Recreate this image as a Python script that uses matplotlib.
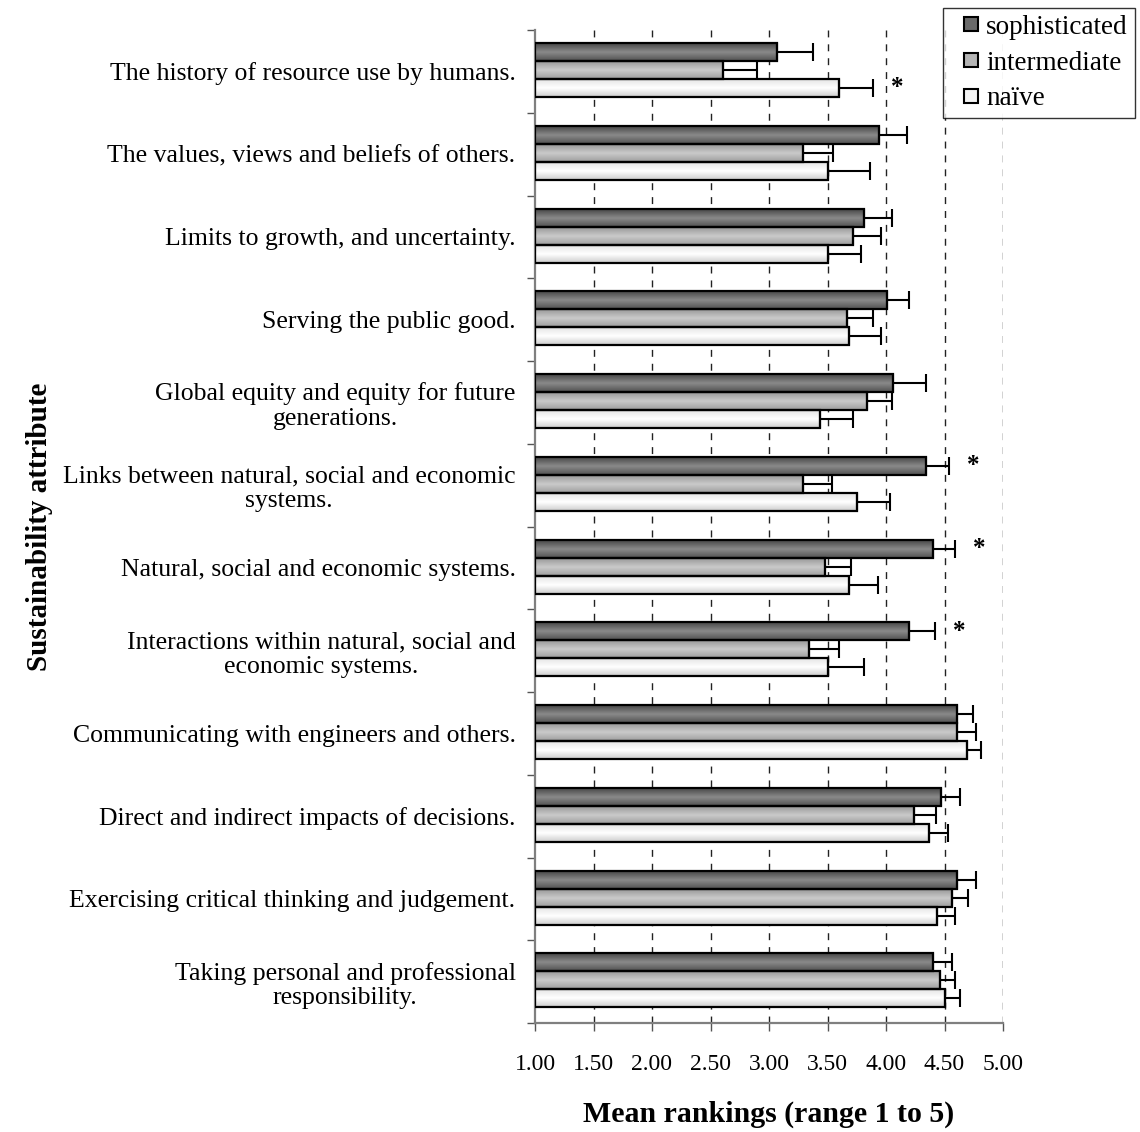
import numpy as np
import matplotlib
matplotlib.use("Agg")
from matplotlib import pyplot as plt
from matplotlib.colors import LinearSegmentedColormap
from matplotlib.patches import Patch, Rectangle
from matplotlib.legend_handler import HandlerPatch

plt.rcParams['font.family'] = ['Liberation Serif', 'DejaVu Serif']

attributes = [
    "The history of resource use by humans.",
    "The values, views and beliefs of others.",
    "Limits to growth, and uncertainty.",
    "Serving the public good.",
    "Global equity and equity for future\ngenerations.",
    "Links between natural, social and economic\nsystems.",
    "Natural, social and economic systems.",
    "Interactions within natural, social and\neconomic systems.",
    "Communicating with engineers and others.",
    "Direct and indirect impacts of decisions.",
    "Exercising critical thinking and judgement.",
    "Taking personal and professional\nresponsibility.",
]
groups = ["sophisticated", "intermediate", "naïve"]

sophisticated = [3.07, 3.94, 3.81, 4.01, 4.06, 4.34, 4.40, 4.20, 4.61, 4.47, 4.61, 4.40]
sophisticated_err = [0.31, 0.24, 0.24, 0.19, 0.28, 0.20, 0.19, 0.22, 0.13, 0.16, 0.16, 0.16]
intermediate = [2.61, 3.29, 3.72, 3.67, 3.84, 3.29, 3.48, 3.34, 4.61, 4.24, 4.56, 4.46]
intermediate_err = [0.29, 0.26, 0.24, 0.22, 0.21, 0.25, 0.22, 0.26, 0.16, 0.19, 0.14, 0.13]
naive = [3.60, 3.50, 3.50, 3.68, 3.44, 3.75, 3.68, 3.50, 4.69, 4.37, 4.44, 4.50]
naive_err = [0.29, 0.36, 0.29, 0.28, 0.28, 0.28, 0.25, 0.31, 0.12, 0.16, 0.15, 0.13]

# significant differences: (attribute index, group index)
significant = [(0, 2), (5, 0), (6, 0), (7, 0)]

xticks = [1.0, 1.5, 2.0, 2.5, 3.0, 3.5, 4.0, 4.5, 5.0]

values = [sophisticated, intermediate, naive]
errors = [sophisticated_err, intermediate_err, naive_err]
shades = [['#474747', '#8a8a8a', '#525252'],
          ['#989898', '#cacaca', '#9e9e9e'],
          ['#e4e4e4', '#ffffff', '#cccccc']]
legend_fill = ['#6a6a6a', '#b4b4b4', '#f4f4f4']


def square_patch(legend, orig_handle, xdescent, ydescent, width, height, fontsize):
    s = 10
    return Rectangle((width - xdescent - s, -ydescent + (height - s) / 2), s, s)


fig = plt.figure(figsize=(11.4, 11.32), dpi=100)
ax = fig.add_axes([535/1140, 109/1132, 468/1140, 993/1132])

x0 = 1.0
y = np.arange(len(attributes))
h = 0.2174
grad = np.linspace(0, 1, 64).reshape(-1, 1)

for gi in range(3):
    vals = np.array(values[gi])
    pos = y + (gi - 1) * h - 0.015
    bars = ax.barh(pos, vals - x0, left=x0, height=h,
                   color='none', edgecolor='black', linewidth=1.6, zorder=3)
    cmap = LinearSegmentedColormap.from_list('g%d' % gi, shades[gi])
    for b in bars:
        bx, by, bw, bh = b.get_x(), b.get_y(), b.get_width(), b.get_height()
        im = ax.imshow(grad, cmap=cmap, aspect='auto', zorder=2,
                       extent=[bx, bx + bw, by + bh, by], interpolation='bilinear')
        im.set_clip_path(b)
    ax.errorbar(vals, pos, xerr=[np.zeros(len(vals)), errors[gi]],
                fmt='none', ecolor='black', elinewidth=1.5, capsize=6.5,
                capthick=1.5, zorder=4)

for ai, gi in significant:
    ax.annotate('*', xy=(values[gi][ai] + errors[gi][ai], y[ai] + (gi - 1) * h),
                xytext=(13, 1), textcoords='offset points',
                ha='left', va='center', fontsize=18, fontweight='bold')

ax.set_xlim(1, 5)
ax.set_ylim(len(attributes) - 0.5, -0.5)
ax.set_xticks(xticks)
ax.set_xticklabels(['%.2f' % t for t in xticks])
ax.set_yticks(y)
ax.set_yticklabels(attributes, linespacing=1.15, multialignment='center')
ax.set_yticks(np.arange(len(attributes) + 1) - 0.5, minor=True)

ax.tick_params(axis='y', which='major', length=0, pad=14, labelsize=18.5)
ax.tick_params(axis='y', which='minor', length=6, width=1, color='#555555', direction='out')
ax.tick_params(axis='x', length=6, width=1, color='#555555', direction='out', pad=16, labelsize=17)

for t in xticks[1:]:
    ax.axvline(t, color='#222222', linewidth=1, linestyle=(0, (5, 5)), zorder=1)

for side in ['top', 'right']:
    ax.spines[side].set_visible(False)
for side in ['left', 'bottom']:
    ax.spines[side].set_color('#7f7f7f')
    ax.spines[side].set_linewidth(1.6)

ax.set_xlabel('Mean rankings (range 1 to 5)', fontsize=21.5, fontweight='bold', labelpad=19)
ax.set_ylabel('Sustainability attribute', fontsize=21, fontweight='bold')
ax.yaxis.set_label_coords((53 - 535) / 468, 0.5)

handles = [Patch(facecolor=c, edgecolor='black', linewidth=1.5) for c in legend_fill]
leg = fig.legend(handles, groups, loc='upper left', bbox_to_anchor=(943/1140, 1 - 8/1132),
                 fontsize=19.5, frameon=True, fancybox=False, borderpad=0.25,
                 handlelength=1.05, handleheight=0.7, handletextpad=0.3, labelspacing=0.4,
                 borderaxespad=0, handler_map={Patch: HandlerPatch(patch_func=square_patch)})
leg.get_frame().set_edgecolor('black')
leg.get_frame().set_linewidth(1)

fig.savefig('out.png', dpi=100)
